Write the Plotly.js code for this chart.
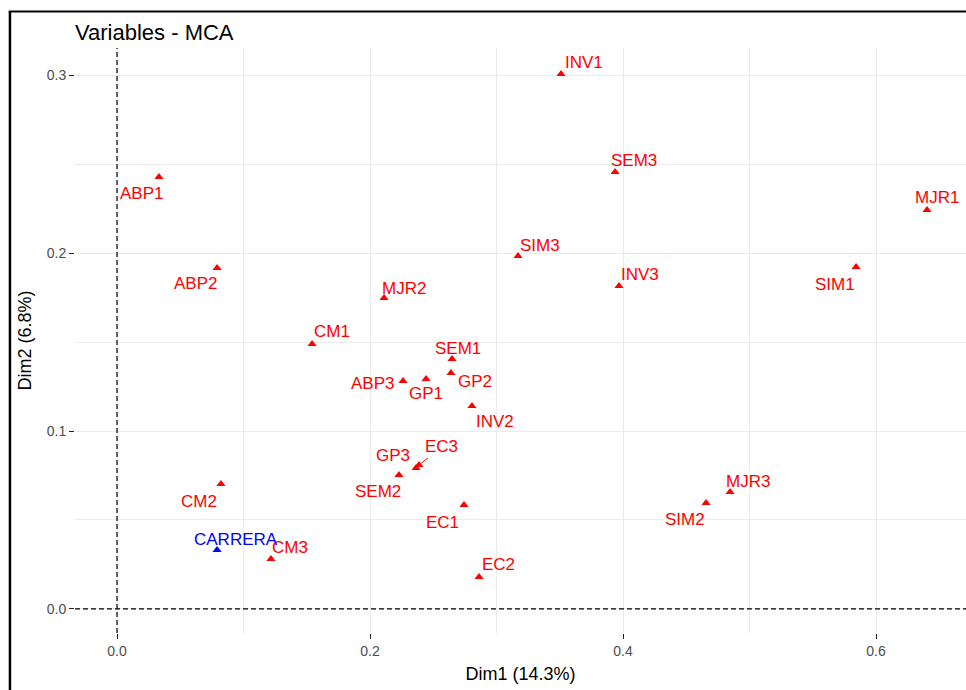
<!DOCTYPE html>
<html>
<head>
<meta charset="utf-8">
<script src="https://cdn.plot.ly/plotly-3.0.1.min.js"></script>
<style>
html,body{margin:0;padding:0;background:#fff;}
#chart{width:966px;height:690px;}
</style>
</head>
<body>
<div id="chart"></div>
<script>
// Category labels (active variables)
const categories = ["INV1","SEM3","MJR1","ABP1","ABP2","SIM3","INV3","SIM1","MJR2","CM1",
  "SEM1","ABP3","GP1","GP2","INV2","EC3","GP3","SEM2","CM2","EC1","SIM2","MJR3","CM3","EC2"];
const dim1 = [0.351,0.3937,0.6403,0.0332,0.0791,0.3170,0.3968,0.5842,0.2111,0.1542,
  0.2648,0.2261,0.2443,0.2640,0.2806,0.2387,0.2364,0.2229,0.0822,0.2743,0.4656,0.4846,0.1217,0.2862];
const dim2 = [0.3006,0.2455,0.2242,0.2427,0.1916,0.1983,0.1815,0.1921,0.1747,0.1489,
  0.1404,0.1281,0.1292,0.1326,0.1140,0.0809,0.0792,0.0753,0.0702,0.0584,0.0596,0.0657,0.0281,0.0180];

// Supplementary variable
const suppNames = ["CARRERA"];
const suppDim1 = [0.0791];
const suppDim2 = [0.0331];

// Axis tick values / labels
const xTicks = [0.0, 0.2, 0.4, 0.6];
const xTickText = ["0.0","0.2","0.4","0.6"];
const yTicks = [0.0, 0.1, 0.2, 0.3];
const yTickText = ["0.0","0.1","0.2","0.3"];

// Label placement (pixel offsets from each point, repel-style)
const labelShift = {
  INV1:[23,11], SEM3:[19,12], MJR1:[10,12], ABP1:[-18,-16], ABP2:[-22,-16], SIM3:[22,11],
  INV3:[21,11], SIM1:[-21,-17], MJR2:[20,10], CM1:[20,12], SEM1:[6,11], ABP3:[-31,-3],
  GP1:[0,-14], GP2:[24,-9], INV2:[23,-15], GP3:[-23,13], SEM2:[-21,-17], CM2:[-22,-17],
  EC1:[-22,-17], SIM2:[-21,-17], MJR3:[18,11], CM3:[19,11], EC2:[19,12], CARRERA:[19,11]
};
const arrowLabels = { EC3:[23,-18] };

const FONT = "Liberation Sans, Arial, sans-serif";
const RED = "#FF0000", BLUE = "#0000FF";

const traces = [
  { type:"scatter", mode:"markers", x:dim1, y:dim2, text:categories,
    marker:{symbol:"triangle-up", size:8, color:RED}, hoverinfo:"text", showlegend:false },
  { type:"scatter", mode:"markers", x:suppDim1, y:suppDim2, text:suppNames,
    marker:{symbol:"triangle-up", size:8, color:BLUE}, hoverinfo:"text", showlegend:false }
];

const annotations = [];
function addLabel(name, x, y, color){
  if (arrowLabels[name]) {
    const a = arrowLabels[name];
    annotations.push({x:x, y:y, xref:"x", yref:"y", text:name, showarrow:true,
      ax:a[0], ay:a[1], arrowhead:0, arrowwidth:1, arrowcolor:color, standoff:2,
      font:{family:FONT, size:17, color:color}});
  } else {
    const s = labelShift[name] || [0,0];
    annotations.push({x:x, y:y, xref:"x", yref:"y", text:name, showarrow:false,
      xshift:s[0], yshift:s[1], font:{family:FONT, size:17, color:color}});
  }
}
categories.forEach((c,i)=>addLabel(c, dim1[i], dim2[i], RED));
suppNames.forEach((c,i)=>addLabel(c, suppDim1[i], suppDim2[i], BLUE));

const layout = {
  width:966, height:690,
  margin:{l:75, r:0, t:48, b:57, pad:0},
  paper_bgcolor:"#FFFFFF", plot_bgcolor:"#FFFFFF",
  font:{family:FONT},
  title:{text:"Variables - MCA", x:0, xref:"paper", xanchor:"left",
    y:1-32/690, yref:"container", yanchor:"middle",
    font:{family:FONT, size:22, color:"#000000"}},
  xaxis:{range:[-0.0332, 0.6711], tickvals:xTicks, ticktext:xTickText,
    showgrid:true, gridcolor:"#EBEBEB", gridwidth:1, zeroline:false, showline:false,
    ticks:"outside", ticklen:5, tickcolor:"#222222", tickwidth:1.2,
    tickfont:{family:FONT, size:14, color:"#4D4D4D"},
    minor:{tickvals:[0.1,0.3,0.5], showgrid:true, gridcolor:"#EBEBEB", gridwidth:1, ticks:""},
    title:{text:"Dim1 (14.3%)", font:{family:FONT, size:18, color:"#000000"}, standoff:9}},
  yaxis:{range:[-0.0135, 0.3152], tickvals:yTicks, ticktext:yTickText,
    showgrid:true, gridcolor:"#EBEBEB", gridwidth:1, zeroline:false, showline:false,
    ticks:"outside", ticklen:5, tickcolor:"#222222", tickwidth:1.2,
    tickfont:{family:FONT, size:14, color:"#4D4D4D"},
    minor:{tickvals:[0.05,0.15,0.25], showgrid:true, gridcolor:"#EBEBEB", gridwidth:1, ticks:""},
    title:{text:"Dim2 (6.8%)", font:{family:FONT, size:18, color:"#000000"}, standoff:10}},
  shapes:[
    {type:"line", xref:"x", yref:"paper", x0:0, x1:0, y0:0, y1:1,
      line:{color:"#000000", width:1.2, dash:"5px,3px"}},
    {type:"line", xref:"paper", yref:"y", x0:0, x1:1, y0:0, y1:0,
      line:{color:"#000000", width:1.2, dash:"5px,3px"}},
    {type:"line", xref:"paper", yref:"paper", x0:-0.0730, x1:-0.0730, y0:1.0624, y1:-0.11,
      line:{color:"#000000", width:2.5}},
    {type:"line", xref:"paper", yref:"paper", x0:-0.0744, x1:1.01, y0:1.0624, y1:1.0624,
      line:{color:"#000000", width:2}}
  ],
  annotations:annotations
};

Plotly.newPlot("chart", traces, layout, {displayModeBar:false, responsive:false});
</script>
</body>
</html>
